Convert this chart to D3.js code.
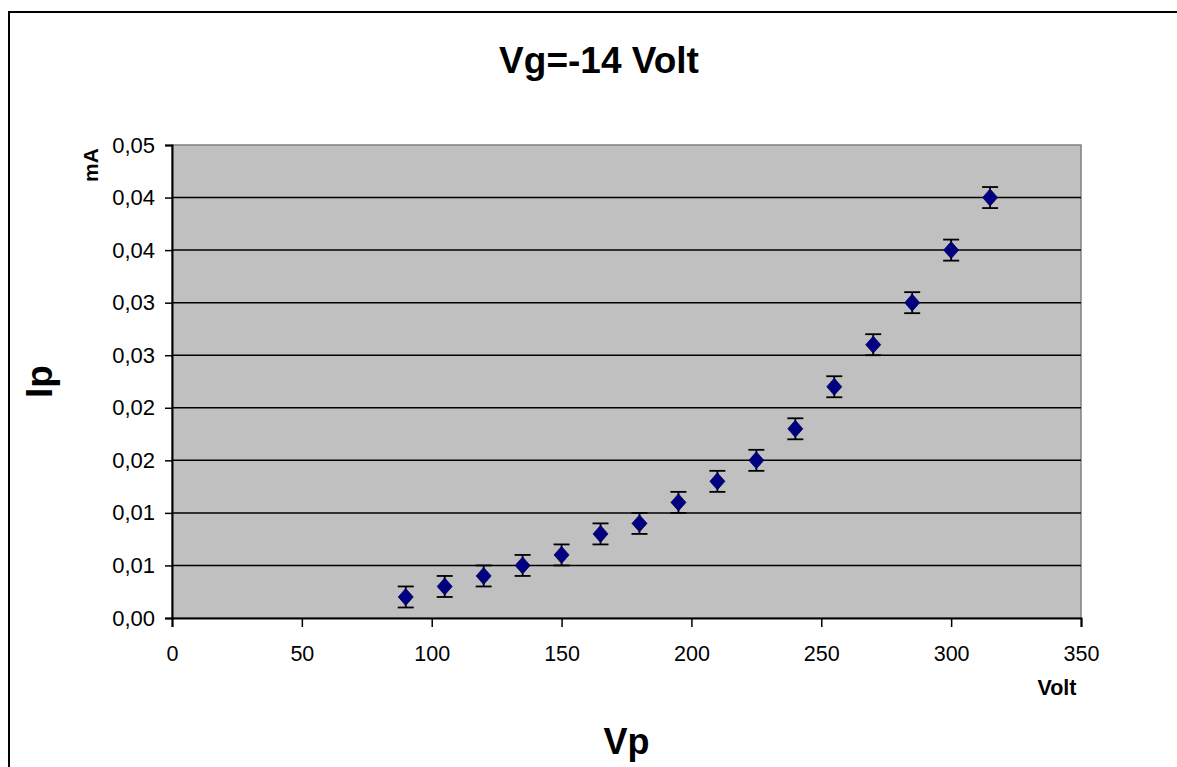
<!DOCTYPE html>
<html>
<head>
<meta charset="utf-8">
<script src="https://cdn.jsdelivr.net/npm/d3@7"></script>
<style>
  html, body { margin: 0; padding: 0; background: #fff; }
  svg { display: block; font-family: "Liberation Sans", Arial, sans-serif; }
</style>
</head>
<body>
<svg id="chart" width="1177" height="767"></svg>
<script>
// Data (Vp in Volt, Ip in mA)
const vp = [90, 105, 120, 135, 150, 165, 180, 195, 210, 225, 240, 255, 270, 285, 300, 315];
const ip = [0.002, 0.003, 0.004, 0.005, 0.006, 0.008, 0.009, 0.011, 0.013, 0.015, 0.018, 0.022, 0.026, 0.030, 0.035, 0.040];
const ipErr = [0.001, 0.001, 0.001, 0.001, 0.001, 0.001, 0.001, 0.001, 0.001, 0.001, 0.001, 0.001, 0.001, 0.001, 0.001, 0.001];
const xTicks = [0, 50, 100, 150, 200, 250, 300, 350];
const yTicks = [0, 0.005, 0.01, 0.015, 0.02, 0.025, 0.03, 0.035, 0.04, 0.045];
const yTickLabels = ["0,00", "0,01", "0,01", "0,02", "0,02", "0,03", "0,03", "0,04", "0,04", "0,05"];
const title = "Vg=-14 Volt";

const svg = d3.select("#chart");
const plot = { left: 172, right: 1081, top: 145, bottom: 618 };

const x = d3.scaleLinear().domain([0, 350]).range([plot.left, plot.right]);
const y = d3.scaleLinear().domain([0, 0.045]).range([plot.bottom, plot.top]);

// outer chart frame
svg.append("rect")
  .attr("x", 9).attr("y", 12).attr("width", 1300).attr("height", 900)
  .attr("fill", "#fff").attr("stroke", "#000").attr("stroke-width", 2);

// plot area
svg.append("rect")
  .attr("x", plot.left).attr("y", plot.top)
  .attr("width", plot.right - plot.left).attr("height", plot.bottom - plot.top)
  .attr("fill", "#c0c0c0").attr("stroke", "#808080").attr("stroke-width", 1.5);

// gridlines
svg.append("g").selectAll("line")
  .data(yTicks.filter(d => d > 0 && d < 0.045))
  .join("line")
  .attr("x1", plot.left).attr("x2", plot.right)
  .attr("y1", d => y(d)).attr("y2", d => y(d))
  .attr("stroke", "#000").attr("stroke-width", 1.5);

// y axis
const yAxis = d3.axisLeft(y).tickValues(yTicks)
  .tickFormat((d, i) => yTickLabels[i]).tickSizeOuter(0).tickSize(7).tickPadding(10);
const gy = svg.append("g").attr("transform", `translate(${plot.left},0)`).call(yAxis);
gy.select(".domain").attr("stroke", "#000").attr("stroke-width", 2);
gy.selectAll(".tick line").attr("stroke", "#000").attr("stroke-width", 1.5);
gy.selectAll(".tick text").attr("font-size", 22).attr("fill", "#000")
  .attr("font-family", "Liberation Sans, Arial, sans-serif");

// x axis
const xAxis = d3.axisBottom(x).tickValues(xTicks).tickSizeOuter(0).tickSize(9).tickPadding(19);
const gx = svg.append("g").attr("transform", `translate(0,${plot.bottom})`).call(xAxis);
gx.select(".domain").attr("stroke", "#000").attr("stroke-width", 2);
gx.selectAll(".tick line").attr("stroke", "#000").attr("stroke-width", 1.5);
gx.selectAll(".tick text").attr("font-size", 21.5).attr("fill", "#000")
  .attr("font-family", "Liberation Sans, Arial, sans-serif");

// error bars
const pts = vp.map((v, i) => ({ v, c: ip[i], e: ipErr[i] }));
const eb = svg.append("g").attr("stroke", "#000").attr("stroke-width", 1.8);
eb.selectAll("line.v").data(pts).join("line").attr("class", "v")
  .attr("x1", d => x(d.v)).attr("x2", d => x(d.v))
  .attr("y1", d => y(d.c - d.e)).attr("y2", d => y(d.c + d.e));
eb.selectAll("line.t").data(pts).join("line").attr("class", "t")
  .attr("x1", d => x(d.v) - 8).attr("x2", d => x(d.v) + 8)
  .attr("y1", d => y(d.c + d.e)).attr("y2", d => y(d.c + d.e));
eb.selectAll("line.b").data(pts).join("line").attr("class", "b")
  .attr("x1", d => x(d.v) - 8).attr("x2", d => x(d.v) + 8)
  .attr("y1", d => y(d.c - d.e)).attr("y2", d => y(d.c - d.e));

// markers (diamonds)
svg.append("g").selectAll("path").data(pts).join("path")
  .attr("d", d => {
    const cx = x(d.v), cy = y(d.c), w = 7.5, h = 8.5;
    return `M${cx},${cy - h}L${cx + w},${cy}L${cx},${cy + h}L${cx - w},${cy}Z`;
  })
  .attr("fill", "#000080").attr("stroke", "#000060").attr("stroke-width", 0.8);

// titles
svg.append("text").attr("x", 599).attr("y", 73).attr("text-anchor", "middle")
  .attr("font-size", 37).attr("font-weight", "bold").text(title);

svg.append("text").attr("x", (plot.left + plot.right) / 2).attr("y", 754).attr("text-anchor", "middle")
  .attr("font-size", 36).attr("font-weight", "bold").text("Vp");

svg.append("text").attr("transform", `translate(52,${(plot.top + plot.bottom) / 2}) rotate(-90)`)
  .attr("text-anchor", "middle").attr("font-size", 37).attr("font-weight", "bold").text("Ip");

svg.append("text").attr("transform", "translate(98,165) rotate(-90)")
  .attr("text-anchor", "middle").attr("font-size", 21).attr("font-weight", "bold").text("mA");

svg.append("text").attr("x", 1057).attr("y", 695).attr("text-anchor", "middle")
  .attr("font-size", 21.5).attr("font-weight", "bold").text("Volt");
</script>
</body>
</html>
